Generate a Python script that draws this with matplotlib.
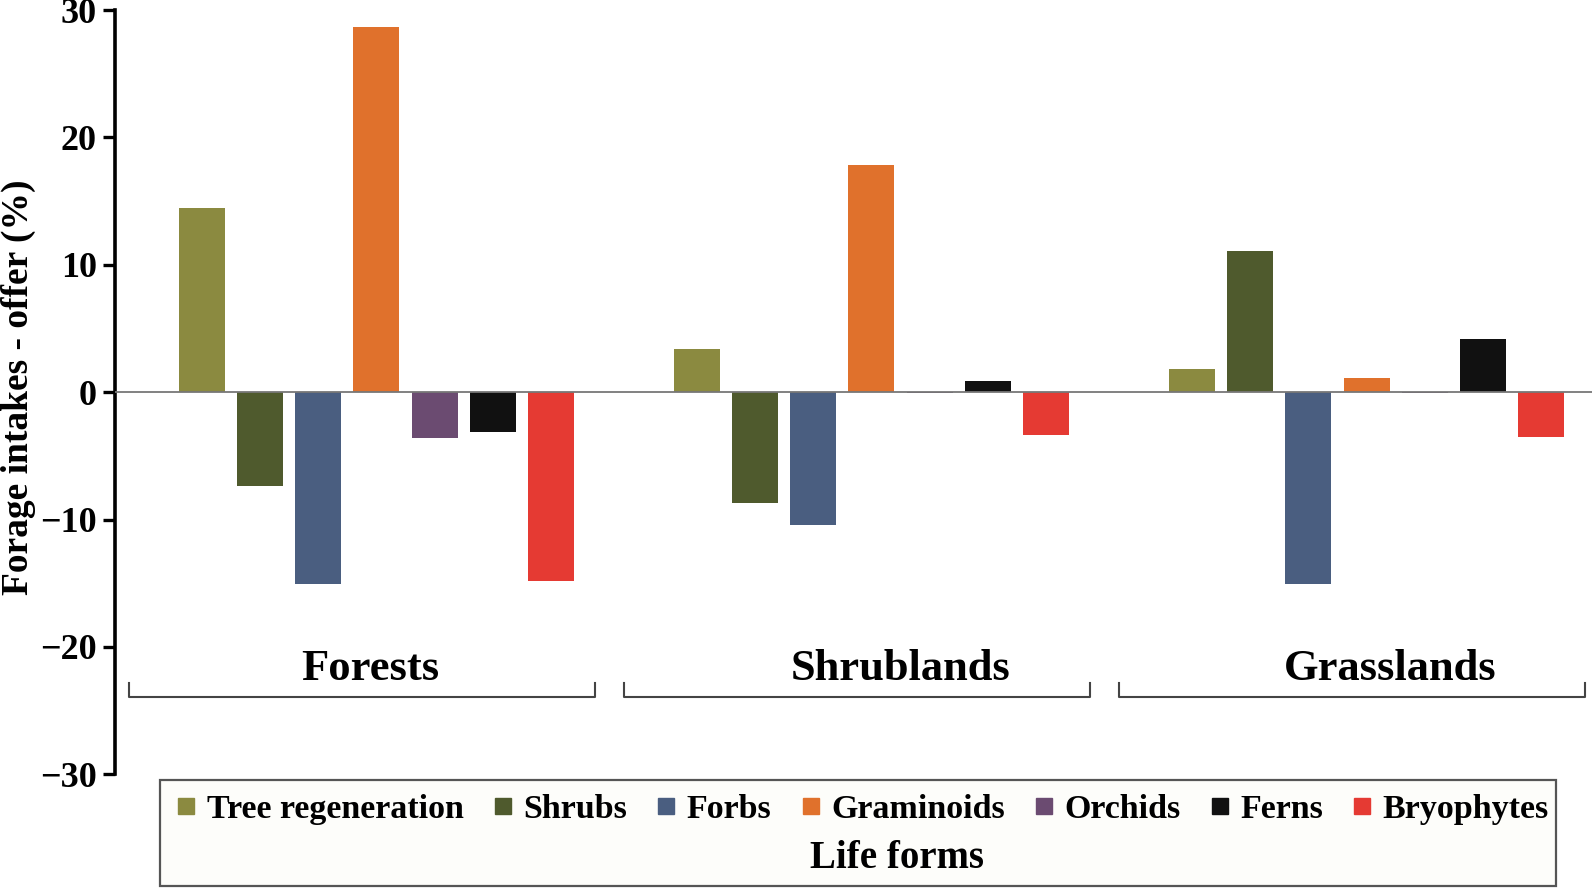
import numpy as np
import matplotlib
matplotlib.use("Agg")
import matplotlib.pyplot as plt
from matplotlib.lines import Line2D
from matplotlib.patches import Rectangle

plt.rcParams["font.family"] = ["Liberation Serif", "DejaVu Serif"]
plt.rcParams["font.weight"] = "bold"

# data
habitats = ["Forests", "Shrublands", "Grasslands"]
life_forms = ["Tree regeneration", "Shrubs", "Forbs", "Graminoids",
              "Orchids", "Ferns", "Bryophytes"]
forests = [14.5, -7.4, -15.1, 28.7, -3.6, -3.1, -14.8]
shrublands = [3.4, -8.7, -10.4, 17.8, -0.1, 0.9, -3.4]
grasslands = [1.8, 11.1, -15.1, 1.1, -0.1, 4.2, -3.5]
values = [forests, shrublands, grasslands]
colors = ["#8b8a40", "#4f5a2d", "#4a5e80", "#e0712c",
          "#6b4b71", "#111111", "#e53a33"]
y_ticks = [-30, -20, -10, 0, 10, 20, 30]

group_pitch = 8.5
label_shift = [-0.1, 0.5, 0.4]

fig = plt.figure(figsize=(15.94, 8.88), dpi=100)
ax = fig.add_axes([0.0721, 0.1281, 0.9266, 0.8605])

for g, vals in enumerate(values):
    x = g * group_pitch + np.arange(len(vals))
    ax.bar(x, vals, width=0.79, color=colors, zorder=2)

ax.axhline(0, color="#777777", lw=1.3, zorder=3)
ax.set_xlim(-1.49, 23.87)
ax.set_ylim(-30, 30)
ax.set_xticks([])
ax.set_yticks(y_ticks)
ax.tick_params(axis="y", length=9, width=2.4, labelsize=26, pad=4)
for side in ["top", "right", "bottom"]:
    ax.spines[side].set_visible(False)
ax.spines["left"].set_linewidth(2.6)
fig.text(0.0115, 0.564, "Forage intakes - offer (%)", fontsize=27,
         fontweight="bold", rotation=90, ha="center", va="center")

# habitat brackets under each group
for g, name in enumerate(habitats):
    s = g * group_pitch - 1.25
    e = s + 8.0
    ax.plot([s, s, e, e], [-22.8, -23.9, -23.9, -22.8], color="#444444",
            lw=1.5, clip_on=False)
    ax.text(g * group_pitch + 3 + label_shift[g], -21.7, name, fontsize=32,
            fontweight="bold", ha="center", va="center")

# legend box with title underneath
fig.add_artist(Rectangle((0.1001, 0.0023), 0.8763, 0.119,
                         transform=fig.transFigure, facecolor="#fdfdfa",
                         edgecolor="#555555", lw=1.6))
handles = [Line2D([], [], marker="s", ls="none", markersize=11, color=c)
           for c in colors]
fig.legend(handles, life_forms, loc="center", bbox_to_anchor=(0.5411, 0.0881),
           ncol=7, frameon=False, prop={"size": 24.5, "weight": "bold"},
           handletextpad=0.3, columnspacing=0.85, handlelength=0.6)
fig.text(0.563, 0.0332, "Life forms", fontsize=28, fontweight="bold",
         ha="center", va="center")

fig.savefig("out.png", dpi=100)
